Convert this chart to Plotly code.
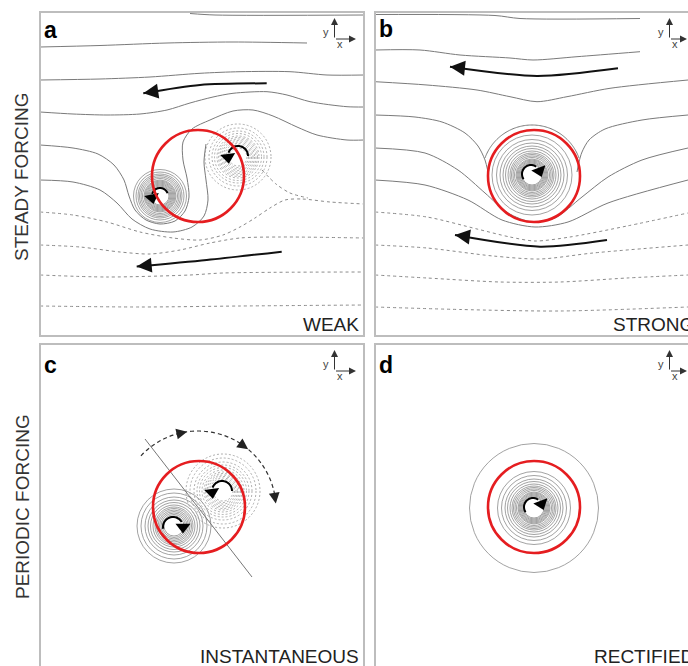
import math
import plotly.graph_objects as go

W, H = 688, 666
PANEL_LEFT = {"a": 40, "b": 375, "c": 40, "d": 375}
PANEL_TOP = {"a": 12, "b": 12, "c": 344, "d": 344}
PANEL_SIZE = 324
AXES = {"a": ("x", "y"), "b": ("x2", "y2"), "c": ("x3", "y3"), "d": ("x4", "y4")}

PANEL_LETTERS = ["a", "b", "c", "d"]
PANEL_CAPTIONS = ["WEAK", "STRONG", "INSTANTANEOUS", "RECTIFIED"]
ROW_LABELS = ["STEADY FORCING", "PERIODIC FORCING"]

# ---------------- data (panel-local pixel coordinates, y pointing down) ----------------
# panel a : streamlines (solid = positive, dotted = negative)
A_S1 = ([150, 175, 324], [1.5, 3, 3])
A_S2 = ([0, 60, 127, 193, 267], [35, 33.5, 31, 30, 31])
A_S3 = ([0, 60, 110, 160, 200, 250, 287, 324], [68, 67, 65, 61.3, 59.7, 59.7, 63, 63])
A_S4 = ([0, 33, 67, 100, 127, 150, 173, 193, 227, 247, 270, 307, 324],
        [100, 102, 103, 102, 98, 91, 85, 81.3, 79.7, 83, 89.7, 94.7, 95])
A_S5 = ([0, 33, 58, 74, 84, 89, 95, 106, 120, 135, 145, 149, 147, 143, 143, 152, 170, 193, 213, 233, 257, 277, 307, 324],
        [133, 136, 142, 153, 168, 184, 198, 208, 212, 209, 199, 185, 166, 148, 130, 117, 108, 99, 98, 104, 115, 123, 128, 128])
A_S6 = ([0, 33, 60, 77, 92, 110, 133, 152, 164, 168, 166, 164, 166],
        [168, 170, 178, 191, 207, 217, 220, 215, 204, 188, 168, 150, 132])
A_D1 = ([0, 33, 67, 100, 133, 160, 183, 200, 215, 230, 245, 262, 290, 324],
        [200, 203, 210, 220, 226, 228, 223, 215, 206, 196, 188, 187, 190, 192])
A_D1B = ([222, 236, 250, 268], [158, 172, 181, 186])
A_D2 = ([0, 40, 80, 110, 140, 170, 200, 240, 324], [233, 235, 240, 242, 238, 231, 226, 225, 226])
A_D3 = ([0, 67, 150, 183, 324], [263, 265, 263, 261, 260])
A_D4 = ([0, 100, 200, 324], [294, 295, 294, 293])
A_FLOW_UP = ([226.7, 160, 103.3], [71.3, 73, 81.3])
A_FLOW_LOW = ([241.7, 166.7, 96.7], [239.7, 248, 254.5])

# panel b
B_S1 = ([0, 120, 145, 265], [2.5, 3.5, 6.5, 6.5])
B_S2 = ([0, 45, 85, 135, 158, 202, 265], [38, 38, 43, 46, 48, 44.7, 39.7])
B_S3 = ([0, 52, 102, 135, 162, 192, 235, 313], [69.7, 73, 78, 84.7, 89.7, 84.7, 76.3, 68])
B_S4L = ([0, 40, 67, 90, 103, 110, 113], [103, 105, 110, 121, 134, 148, 160])
B_S4R = ([313, 267, 230, 214, 207, 204, 202], [103, 108, 117, 128, 140, 150, 160])
B_S5 = ([0, 50, 83, 110, 133, 157, 180, 207, 233, 267, 313], [136, 141, 158, 181, 201, 210, 206, 185, 165, 148, 136])
B_S6 = ([0, 50, 93, 127, 160, 193, 233, 313], [168, 173, 188, 208, 215, 210, 191, 168])
B_D1 = ([0, 52, 102, 135, 160, 195, 252, 313], [200, 205, 217, 225, 229, 225, 214, 201])
B_D2 = ([0, 52, 118, 165, 218, 313], [233, 236, 244, 247, 241, 233])
B_D3 = ([0, 52, 125, 185, 252, 313], [263, 266, 270, 270, 266, 263])
B_D4 = ([0, 85, 185, 313], [295, 297.5, 299, 295])
B_FLOW_UP = ([243, 162, 75], [56.3, 64, 54.7])
B_FLOW_LOW = ([232, 165, 80], [228, 234.7, 223])
B_LOOP = (157, 163, 50, 160, 20)          # centre x, centre y, radius, start deg, end deg

# panel c
C_DIAGONAL = ([105, 212], [95, 233])
C_SWEEP = (158, 165, 78, 137, 4)          # dashed arc of the oscillation
C_SWEEP_HEADS = [98, 50, 4]

# vortex contour rings: centre x, centre y, radii, dotted?
RINGS_A_LEFT = (120, 184, [9, 10, 11, 12, 13, 14, 15, 16, 17.5, 19, 20.5, 22, 24, 26.5], False)
RINGS_A_RIGHT = (198, 145, [9, 10.5, 12, 13.5, 15, 16.5, 18, 19.5, 21, 23.5, 26, 29, 33], True)
RINGS_B = (157, 163, [10, 11, 12, 13, 14, 15, 16, 17.5, 19, 20.5, 22, 24, 26.5, 29, 32, 35.5, 40], False)
RINGS_C_LEFT = (134, 182, [10, 11.5, 13, 14.5, 16, 17.5, 19, 21, 23.5, 26, 29, 33, 37], False)
RINGS_C_RIGHT = (183, 147, [10, 11.5, 13, 14.5, 16, 17.5, 19, 21, 23.5, 26, 29, 33, 37], True)
RINGS_D = (159, 164, [10, 11, 12, 13, 14, 15, 16, 17.5, 19, 20.5, 22, 24, 26.5, 29, 32.5, 36.5, 64.5], False)

# red boundary circles: centre x, centre y, radius
RED_CIRCLES = {"a": (158, 164, 46), "b": (159, 164, 46), "c": (159, 163, 46), "d": (159, 163, 46)}

# vortex rotation arrows: panel, cx, cy, r, arc start deg, arc end deg, head position deg
SPIN_ARROWS = [
    ("a", 120, 184, 8, 20, 165, 192),
    ("a", 198, 144, 10, 0, 160, 187),
    ("b", 156, 162, 9, 215, 55, 20),
    ("c", 133, 183, 10, 190, 30, 0),
    ("c", 182, 147, 10, 0, 160, 187),
    ("d", 158, 163, 9, 215, 55, 20),
]

SOLID = "#7a7a7a"
RING = "#8a8a8a"
RED = "#e51d20"
BORDER = "#bdbdbd"
FONT = "Liberation Sans, Arial, sans-serif"


def to_paper(panel, x, y):
    return (PANEL_LEFT[panel] + x) / W, 1 - (PANEL_TOP[panel] + y) / H


def arc(cx, cy, r, t0, t1, n=48):
    ts = [t0 + (t1 - t0) * i / (n - 1) for i in range(n)]
    return ([cx + r * math.cos(math.radians(t)) for t in ts],
            [cy - r * math.sin(math.radians(t)) for t in ts])


fig = go.Figure()
shapes = []
annotations = []

# axes / domains
layout_axes = {}
for i, p in enumerate(PANEL_LETTERS):
    left, top = PANEL_LEFT[p], PANEL_TOP[p]
    vis_w = min(left + PANEL_SIZE, W) - left
    vis_h = min(top + PANEL_SIZE, H) - top
    xn = "xaxis" if i == 0 else f"xaxis{i + 1}"
    yn = "yaxis" if i == 0 else f"yaxis{i + 1}"
    xa, ya = AXES[p]
    layout_axes[xn] = dict(domain=[left / W, (left + vis_w) / W], range=[0, vis_w], visible=False,
                           anchor=ya, fixedrange=True)
    layout_axes[yn] = dict(domain=[1 - (top + vis_h) / H, 1 - top / H], range=[vis_h, 0], visible=False,
                           anchor=xa, fixedrange=True)
    # panel border
    shapes.append(dict(type="rect", xref="paper", yref="paper",
                       x0=left / W, x1=(left + PANEL_SIZE) / W,
                       y0=1 - (top + PANEL_SIZE) / H, y1=1 - top / H,
                       line=dict(color=BORDER, width=2), layer="above"))


def add_line(panel, xy, dotted=False, color=SOLID, width=1.0, dash=None):
    xa, ya = AXES[panel]
    fig.add_trace(go.Scatter(
        x=xy[0], y=xy[1], mode="lines", xaxis=xa, yaxis=ya, hoverinfo="skip",
        line=dict(color=color, width=width, shape="spline", smoothing=0.8,
                  dash=dash if dash else ("3px,3px" if dotted else "solid"))))


for xy in [A_S1, A_S2, A_S3, A_S4, A_S5, A_S6]:
    add_line("a", xy)
for xy in [A_D1, A_D1B, A_D2, A_D3, A_D4]:
    add_line("a", xy, dotted=True, color="#8a8a8a")
for xy in [B_S1, B_S2, B_S3, B_S4L, B_S4R, B_S5, B_S6]:
    add_line("b", xy)
for xy in [B_D1, B_D2, B_D3, B_D4]:
    add_line("b", xy, dotted=True, color="#8a8a8a")
add_line("b", arc(*B_LOOP))
add_line("c", C_DIAGONAL, color="#777777", width=1.0)
add_line("c", arc(*C_SWEEP), color="#333333", width=1.2, dash="4px,3px")

# rings
for panel, rings in [("a", RINGS_A_LEFT), ("a", RINGS_A_RIGHT), ("b", RINGS_B),
                     ("c", RINGS_C_LEFT), ("c", RINGS_C_RIGHT), ("d", RINGS_D)]:
    cx, cy, radii, dotted = rings
    xa, ya = AXES[panel]
    for r in radii:
        shapes.append(dict(type="circle", xref=xa, yref=ya, x0=cx - r, x1=cx + r, y0=cy - r, y1=cy + r,
                           line=dict(color="#999999" if dotted else RING, width=0.8,
                                     dash="2px,2px" if dotted else "solid"),
                           layer="below"))

# red circles
for p in PANEL_LETTERS:
    cx, cy, r = RED_CIRCLES[p]
    xa, ya = AXES[p]
    shapes.append(dict(type="circle", xref=xa, yref=ya, x0=cx - r, x1=cx + r, y0=cy - r, y1=cy + r,
                       line=dict(color=RED, width=2.6), layer="above"))


def head(panel, tip, tail, width=1.6, size=1.6, color="black", style=2):
    px, py = to_paper(panel, *tip)
    annotations.append(dict(x=px, y=py, xref="paper", yref="paper", text="",
                            ax=tail[0] - tip[0], ay=tail[1] - tip[1], axref="pixel", ayref="pixel",
                            showarrow=True, arrowhead=style, arrowsize=size, arrowwidth=width,
                            arrowcolor=color, standoff=0, startstandoff=0))


# large flow arrows
for panel, flow in [("a", A_FLOW_UP), ("a", A_FLOW_LOW), ("b", B_FLOW_UP), ("b", B_FLOW_LOW)]:
    add_line(panel, flow, color="#111111", width=2.0)
    xs, ys = flow
    dx, dy = xs[-1] - xs[-2], ys[-1] - ys[-2]
    n = math.hypot(dx, dy)
    tail = (xs[-1] - 14 * dx / n, ys[-1] - 14 * dy / n)
    head(panel, (xs[-1], ys[-1]), tail, width=2.0, size=1.5, color="#111111")

# vortex rotation arrows: arc + rotated triangle marker
for panel, cx, cy, r, t0, t1, th in SPIN_ARROWS:
    add_line(panel, arc(cx, cy, r, t0, t1), color="black", width=2.0)
    s = math.radians(th)
    mx, my = cx + r * math.cos(s), cy - r * math.sin(s)
    if t1 > t0:      # counter-clockwise (y up)
        dx, dy = -math.sin(s), -math.cos(s)
    else:            # clockwise
        dx, dy = math.sin(s), math.cos(s)
    bearing = math.degrees(math.atan2(dx, -dy))
    xa, ya = AXES[panel]
    fig.add_trace(go.Scatter(x=[mx], y=[my], mode="markers", xaxis=xa, yaxis=ya, hoverinfo="skip",
                             marker=dict(symbol="triangle-up", size=13, color="black", angle=bearing,
                                         line=dict(width=0))))

# arrowheads on the oscillation sweep (panel c)
scx, scy, sr = C_SWEEP[0], C_SWEEP[1], C_SWEEP[2]
for t in C_SWEEP_HEADS:
    tip = (scx + sr * math.cos(math.radians(t)), scy - sr * math.sin(math.radians(t)))
    tail = (scx + sr * math.cos(math.radians(t + 9)), scy - sr * math.sin(math.radians(t + 9)))
    head("c", tip, tail, width=1.2, size=1.8, color="#222222")

# axis icons, letters, captions
LABEL_Y = {"a": 18, "b": 17, "c": 21, "d": 21}
for p, cap in zip(PANEL_LETTERS, PANEL_CAPTIONS):
    head(p, (294.5, 6), (294.5, 27), width=1.0, size=1.4, color="#333333")
    head(p, (316, 27), (294.5, 27), width=1.0, size=1.4, color="#333333")
    for txt, lx, ly in [("y", 286, 20), ("x", 300, 32)]:
        px, py = to_paper(p, lx, ly)
        annotations.append(dict(x=px, y=py, xref="paper", yref="paper", text=txt, showarrow=False,
                                font=dict(family=FONT, size=11, color="#444444"),
                                xanchor="center", yanchor="middle"))
    px, py = to_paper(p, 2, LABEL_Y[p])
    annotations.append(dict(x=px, y=py, xref="paper", yref="paper", text=f"<b>{p}</b>", showarrow=False,
                            font=dict(family=FONT, size=23, color="black"),
                            xanchor="left", yanchor="middle"))
    px, py = to_paper(p, 321, 312)
    annotations.append(dict(x=px, y=py, xref="paper", yref="paper", text=cap, showarrow=False,
                            font=dict(family=FONT, size=19, color="#222222"),
                            xanchor="right", yanchor="middle"))

for label, yc in zip(ROW_LABELS, [177, 507]):
    annotations.append(dict(x=22 / W, y=1 - yc / H, xref="paper", yref="paper", text=label,
                            showarrow=False, textangle=-90,
                            font=dict(family=FONT, size=19, color="#333333"),
                            xanchor="center", yanchor="middle"))

fig.update_layout(width=W, height=H, margin=dict(l=0, r=0, t=0, b=0),
                  paper_bgcolor="white", plot_bgcolor="white", showlegend=False,
                  shapes=shapes, annotations=annotations, **layout_axes)
fig.write_html("out.html")
